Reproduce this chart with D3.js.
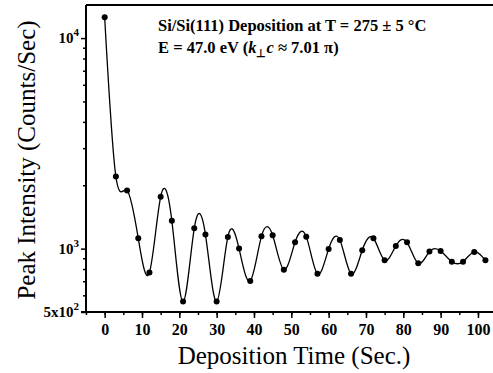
<!DOCTYPE html>
<html>
<head>
<meta charset="utf-8">
<script src="https://cdn.jsdelivr.net/npm/d3@7"></script>
<style>
  body { margin: 0; background: #fff; }
  svg text { font-family: "Liberation Serif", "Times New Roman", serif; }
</style>
</head>
<body>
<svg id="graph"></svg>
<script>
// Deposition time (s) and peak intensity (counts/s)
const times = [0, 3, 6, 9, 12, 15, 18, 21, 24, 27, 30, 33, 36, 39, 42, 45, 48, 51,
  54, 57, 60, 63, 66, 69, 72, 75, 78, 81, 84, 87, 90, 93, 96, 99, 102];
const intensity = [12550, 2200, 1890, 1120, 771, 1763, 1355, 561, 1249, 1166, 561, 1137,
  1000, 702, 1144, 1157, 794, 1072, 1140, 760, 997, 1100, 760, 982, 1120, 880, 1030,
  1072, 851, 968, 975, 867, 867, 964, 880];
const xTicks = [0, 10, 20, 30, 40, 50, 60, 70, 80, 90, 100];
const yMajor = [500, 1000, 10000];
const yMinor = [600, 700, 800, 900, 2000, 3000, 4000, 5000, 6000, 7000, 8000, 9000];

const width = 493, height = 373;
const margin = { top: 5, left: 86, bottom: 312 };
const serif = "Liberation Serif, Times New Roman, serif";

const svg = d3.select("#graph")
  .attr("width", width)
  .attr("height", height);

const xScale = d3.scaleLinear()
  .domain([-5, 104])
  .range([margin.left, margin.left + 109 * 3.733]);

const yScale = d3.scaleLog()
  .domain([500, 14360])
  .range([margin.bottom, margin.top]);

// x axis
const xAxis = svg.append("g")
  .attr("transform", `translate(0,${margin.bottom})`);
xAxis.append("g")
  .call(d3.axisBottom(xScale).tickValues(d3.range(-5, 104, 5)).tickSize(3).tickFormat(""))
  .call(g => g.select(".domain").remove());
xAxis.append("g")
  .call(d3.axisBottom(xScale).tickValues(xTicks).tickSize(6).tickPadding(6))
  .attr("font-family", serif)
  .call(g => g.select(".domain").remove())
  .call(g => g.selectAll("text").attr("font-size", 16).attr("font-weight", "bold")
    .attr("font-family", serif));
xAxis.selectAll("line").attr("stroke", "#000").attr("stroke-width", 1.5);
xAxis.append("line")
  .attr("x1", margin.left - 5).attr("x2", width)
  .attr("stroke", "#000").attr("stroke-width", 2);

// y axis
const yAxis = svg.append("g")
  .attr("transform", `translate(${margin.left},0)`);
yAxis.append("g")
  .call(d3.axisLeft(yScale).tickValues(yMinor).tickSize(3).tickFormat(""))
  .call(g => g.select(".domain").remove());
yAxis.append("g")
  .call(d3.axisLeft(yScale).tickValues(yMajor).tickSize(5).tickFormat(""))
  .call(g => g.select(".domain").remove());
yAxis.selectAll("line").attr("stroke", "#000").attr("stroke-width", 1.5);
yAxis.append("line")
  .attr("y1", margin.top).attr("y2", margin.bottom)
  .attr("stroke", "#000").attr("stroke-width", 2);

// y tick labels with superscripts
const yLabels = [
  { v: 10000, pre: "10", sup: "4" },
  { v: 1000, pre: "10", sup: "3" },
  { v: 500, pre: "5x10", sup: "2" }
];
yLabels.forEach(d => {
  const t = svg.append("text")
    .attr("x", margin.left - 7)
    .attr("y", yScale(d.v) + 5)
    .attr("text-anchor", "end")
    .attr("font-family", serif)
    .attr("font-size", 15)
    .attr("font-weight", "bold");
  t.append("tspan").text(d.pre);
  t.append("tspan").attr("font-size", 11).attr("dy", -7).text(d.sup);
});

// top frame
svg.append("line")
  .attr("x1", margin.left).attr("x2", width)
  .attr("y1", margin.top).attr("y2", margin.top)
  .attr("stroke", "#000").attr("stroke-width", 2);

// data curve and points
const pts = times.map((t, i) => [t, intensity[i]]);
const line = d3.line()
  .x(d => xScale(d[0]))
  .y(d => yScale(d[1]))
  .curve(d3.curveNatural);

svg.append("path")
  .datum(pts)
  .attr("d", line)
  .attr("fill", "none")
  .attr("stroke", "#000")
  .attr("stroke-width", 1.3);

svg.append("g").selectAll("circle")
  .data(pts)
  .join("circle")
  .attr("cx", d => xScale(d[0]))
  .attr("cy", d => yScale(d[1]))
  .attr("r", 3)
  .attr("fill", "#000");

// axis titles
svg.append("text")
  .attr("x", 294).attr("y", 364)
  .attr("text-anchor", "middle")
  .attr("font-family", serif)
  .attr("font-size", 25)
  .text("Deposition Time (Sec.)");

svg.append("text")
  .attr("transform", "translate(35,160) rotate(-90)")
  .attr("text-anchor", "middle")
  .attr("font-family", serif)
  .attr("font-size", 25)
  .text("Peak Intensity (Counts/Sec)");

// annotation
const note = svg.append("g").attr("font-weight", "bold").attr("font-size", 16.5)
  .attr("font-family", serif);
note.append("text").attr("x", 158).attr("y", 31)
  .text("Si/Si(111) Deposition at T = 275 ± 5 °C");
const l2 = note.append("text").attr("x", 158).attr("y", 53);
l2.append("tspan").text("E = 47.0 eV (");
l2.append("tspan").attr("font-style", "italic").text("k");
l2.append("tspan").attr("font-size", 11).attr("dy", 4).text("⊥");
l2.append("tspan").attr("font-style", "italic").attr("dy", -4).text("c");
l2.append("tspan").text(" ≈ 7.01 π)");
</script>
</body>
</html>
